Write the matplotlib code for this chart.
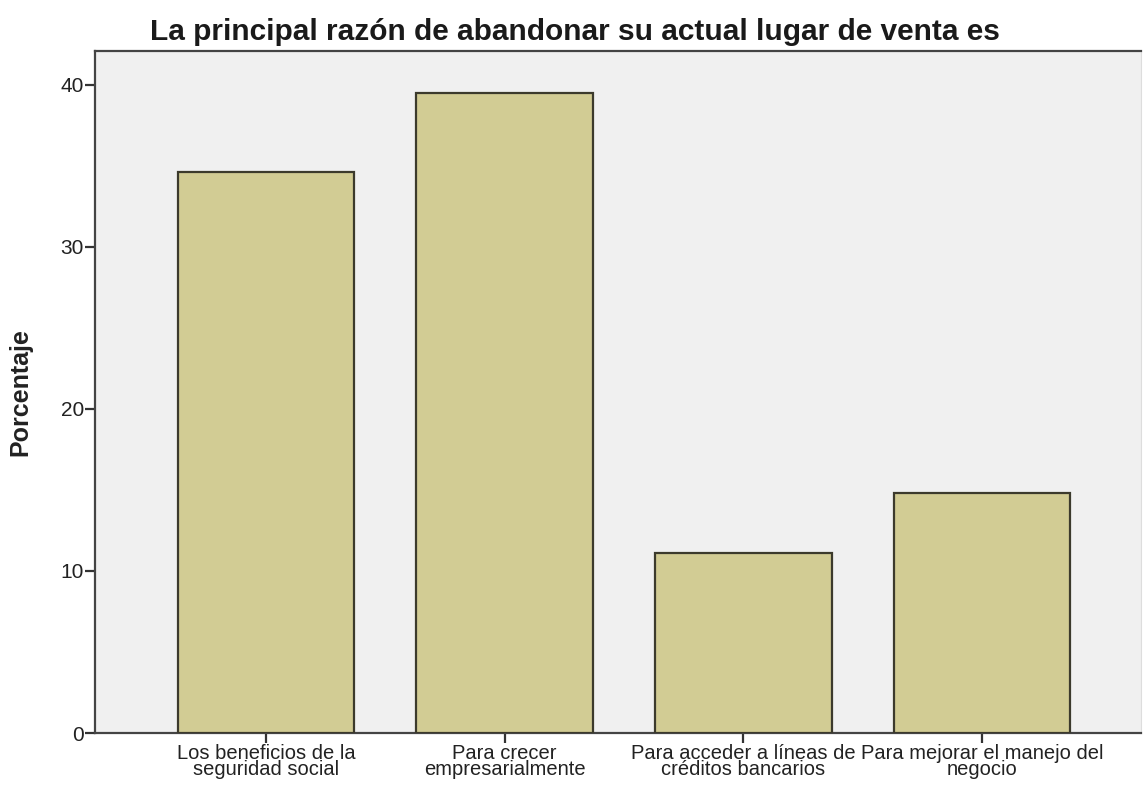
import numpy as np
import matplotlib.pyplot as plt

plt.rcParams['font.family'] = ['Liberation Sans', 'DejaVu Sans']

categories = ["Los beneficios de la\nseguridad social",
              "Para crecer\nempresarialmente",
              "Para acceder a líneas de\ncréditos bancarios",
              "Para mejorar el manejo del\nnegocio"]
porcentaje = [34.6, 39.5, 11.1, 14.8]
y_ticks = [0, 10, 20, 30, 40]

fig = plt.figure(figsize=(11.43, 7.85), dpi=100)
ax = fig.add_axes([0.0831, 0.0662, 0.915, 0.869])
ax.set_facecolor('#f0f0f0')

x = np.arange(len(categories))
ax.bar(x, porcentaje, width=0.74, color='#d2cc94', edgecolor='#3c3a2c', linewidth=1.6, zorder=3)

ax.set_xlim(-0.716, len(categories) - 1 + 0.665)
ax.set_ylim(0, 42.1)
ax.set_yticks(y_ticks)
ax.set_xticks(x)
ax.set_xticklabels(categories, fontsize=14.5, linespacing=0.8, color='#222222')
ax.tick_params(axis='y', labelsize=15, length=7, width=1.6, color='#333333', pad=1,
               labelcolor='#222222')
ax.tick_params(axis='x', length=7, width=1.6, color='#333333', pad=1)

for side in ['left', 'bottom', 'top']:
    ax.spines[side].set_color('#444444')
    ax.spines[side].set_linewidth(1.6)
ax.spines['right'].set_color('#dddddd')

ax.set_ylabel("Porcentaje", fontsize=18, fontweight='bold', color='#222222')
ax.yaxis.set_label_coords(-0.06, 0.5)
fig.text(575 / 1143, 1 - 40 / 785, "La principal razón de abandonar su actual lugar de venta es",
         fontsize=21.5, fontweight='bold', ha='center', va='baseline', color='#1a1a1a')

fig.savefig('out.png', dpi=100, facecolor='white')
